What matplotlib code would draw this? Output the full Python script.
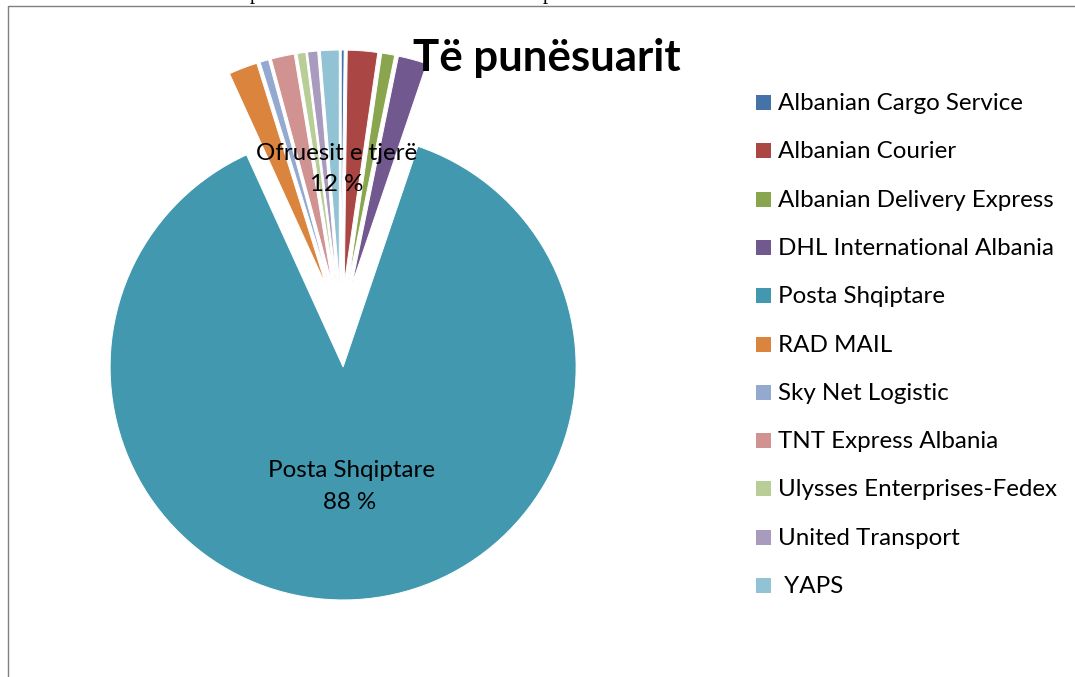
import matplotlib.pyplot as plt
from matplotlib.patches import Rectangle

# data (share of employees, %)
companies = ["Albanian Cargo Service", "Albanian Courier", "Albanian Delivery Express",
             "DHL International Albania", "Posta Shqiptare", "RAD MAIL", "Sky Net Logistic",
             "TNT Express Albania", "Ulysses Enterprises-Fedex", "United Transport", " YAPS"]
shares = [0.2, 2.1, 0.9, 2.0, 88.0, 2.0, 0.6, 1.6, 0.6, 0.7, 1.3]
colors = ["#4572A7", "#AA4643", "#89A54E", "#71588F", "#4198AF", "#DB843D",
          "#93A9CF", "#D19392", "#B9CD96", "#A99BBD", "#92C3D4"]

title = "Të punësuarit"
label_other = ["Ofruesit e tjerë", "12 %"]
label_posta = ["Posta Shqiptare", "88 %"]

W, H = 1075, 677
fig = plt.figure(figsize=(W / 100, H / 100), dpi=100)
ax = fig.add_axes([0, 0, 1, 1])

font = "Lato"
fs = 17.4

# pie: every slice pulled out a bit, first slice starts at 12 o'clock going clockwise
# (y axis is flipped below, so counterclock=True reads clockwise on screen)
# note: explode in mpl is an absolute offset, here in pixels
ax.pie(shares, colors=colors, startangle=-90, counterclock=True,
       radius=233, center=(341, 325), explode=[42] * len(shares),
       wedgeprops=dict(edgecolor="white", linewidth=0.7))

ax.set_xlim(0, W)
ax.set_ylim(H, 0)
ax.set_aspect("equal")
ax.axis("off")

# slice labels
ax.text(337, 160, label_other[0], ha="center", va="baseline", fontsize=fs, family=font)
ax.text(337, 191, label_other[1], ha="center", va="baseline", fontsize=fs, family=font)
ax.text(351, 477, label_posta[0], ha="center", va="baseline", fontsize=fs, family=font)
ax.text(350, 509, label_posta[1], ha="center", va="baseline", fontsize=fs, family=font)

ax.text(547, 71, title, ha="center", va="baseline", fontsize=31.5,
        fontweight="bold", family=font)

# legend, drawn by hand
for i, (name, col) in enumerate(zip(companies, colors)):
    y0 = 110 + i * 48.3
    ax.add_patch(Rectangle((756, y0 - 15), 15, 15, facecolor=col, edgecolor="none"))
    ax.text(778, y0, name, ha="left", va="baseline", fontsize=fs, family=font)

# frame of the embedded chart and the clipped text line above it
ax.plot([7.7, 7.7, W], [H, 6.3, 6.3], color="#808080", lw=1.0, clip_on=False)
for xp in (255, 548):
    ax.text(xp, -0.5, "p", ha="center", va="baseline", fontsize=15,
            family="Liberation Serif", clip_on=False)

fig.savefig("out.png", dpi=100)
